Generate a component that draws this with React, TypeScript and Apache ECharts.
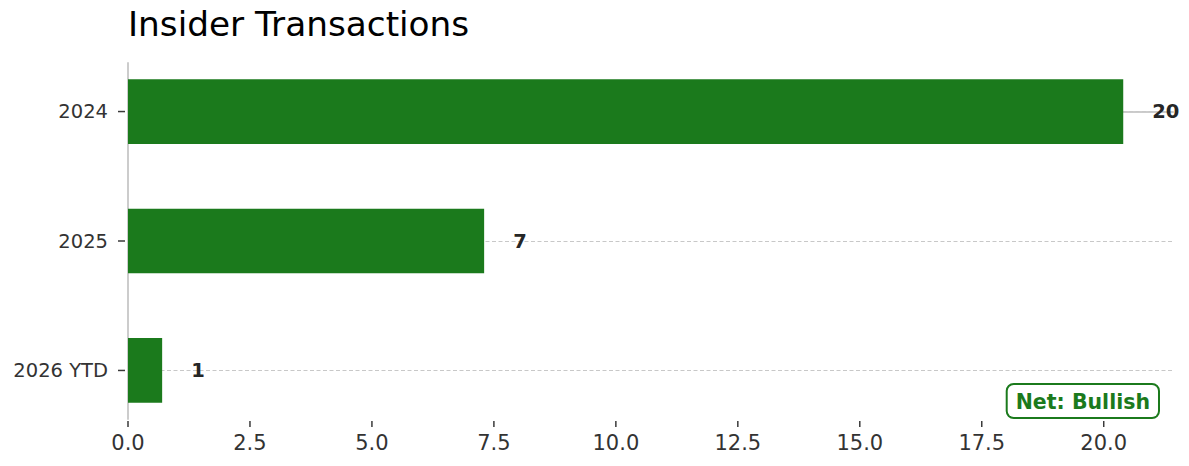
import React, { useEffect, useRef } from "react";
import * as echarts from "echarts";

// Insider transaction counts per period
const categories = ["2024", "2025", "2026 YTD"];
const transactions = [20.4, 7.3, 0.7];
const xTicks = [0, 2.5, 5, 7.5, 10, 12.5, 15, 17.5, 20];
const netSignal = "Net: Bullish";

const FONT = '"DejaVu Sans", "Liberation Sans", sans-serif';
const GREEN = "#1b7a1c";
const SPINE = "#cccccc";
const TEXT = "#333333";
const TICK = "#3a3a3a";
const BAR_HEIGHT = 0.5;

export default function App() {
  const ref = useRef<HTMLDivElement>(null);

  useEffect(() => {
    if (!ref.current) return;
    const chart = echarts.init(ref.current, null, { renderer: "svg" });
    const catIdx = categories.map((_, i) => i);

    chart.setOption({
      animation: false,
      title: {
        text: "Insider Transactions",
        left: 123,
        top: 2,
        textStyle: { fontFamily: FONT, fontSize: 34.3, fontWeight: "normal", color: "#000" },
      },
      grid: { left: 128, top: 63, width: 1045, height: 356, containLabel: false },
      xAxis: {
        type: "value",
        min: 0,
        max: Math.max(...transactions) * 1.05,
        splitLine: { show: false },
        axisLine: { show: true, lineStyle: { color: SPINE, width: 2 } },
        axisTick: { show: false },
        axisLabel: {
          customValues: xTicks,
          formatter: (v: number) => v.toFixed(1),
          fontFamily: FONT,
          fontSize: 21,
          color: TEXT,
          margin: 13,
        },
      },
      yAxis: {
        type: "value",
        inverse: true,
        min: -0.375,
        max: categories.length - 1 + 0.375,
        splitLine: { show: false },
        axisLine: { show: true, lineStyle: { color: SPINE, width: 2 } },
        axisTick: { show: false },
        axisLabel: {
          customValues: catIdx,
          formatter: (v: number) => categories[Math.round(v)] ?? "",
          fontFamily: FONT,
          fontSize: 19.5,
          color: TEXT,
          margin: 20,
        },
      },
      series: [
        {
          // dashed guides at each period
          type: "line",
          data: [],
          z: 1,
          markLine: {
            silent: true,
            z: 1,
            symbol: "none",
            label: { show: false },
            lineStyle: { color: "#c8c8c8", type: [4, 2.5], width: 1 },
            data: catIdx.map((i) => ({ yAxis: i })),
          },
        },
        {
          // x-axis tick marks
          type: "custom",
          z: 3,
          clip: false,
          encode: { x: 0 },
          data: xTicks.map((t) => [t]),
          renderItem: (_params: any, api: any) => {
            const p = api.coord([api.value(0), categories.length - 1 + 0.375]);
            return {
              type: "line",
              shape: { x1: p[0], y1: p[1] + 2, x2: p[0], y2: p[1] + 8 },
              style: { stroke: TICK, lineWidth: 1.5 },
            };
          },
        },
        {
          type: "custom",
          z: 2,
          clip: false,
          encode: { x: 0, y: 1 },
          data: transactions.map((v, i) => [v, i]),
          renderItem: (_params: any, api: any) => {
            const v = api.value(0);
            const i = api.value(1);
            const p0 = api.coord([0, i - BAR_HEIGHT / 2]);
            const p1 = api.coord([v, i + BAR_HEIGHT / 2]);
            const mid = api.coord([v, i]);
            const base = api.coord([0, i]);
            return {
              type: "group",
              children: [
                {
                  type: "rect",
                  shape: {
                    x: p0[0],
                    y: Math.min(p0[1], p1[1]),
                    width: p1[0] - p0[0],
                    height: Math.abs(p1[1] - p0[1]),
                  },
                  style: { fill: GREEN },
                },
                {
                  // y-axis tick mark for this period
                  type: "line",
                  shape: { x1: base[0] - 10, y1: base[1], x2: base[0] - 3, y2: base[1] },
                  style: { stroke: TICK, lineWidth: 1.5 },
                },
                {
                  type: "text",
                  x: mid[0] + 29,
                  y: mid[1],
                  style: {
                    text: String(Math.round(v)),
                    font: `bold 19.5px ${FONT}`,
                    fill: "#262626",
                    align: "left",
                    verticalAlign: "middle",
                  },
                },
              ],
            };
          },
        },
      ],
      graphic: [
        {
          type: "text",
          right: 29,
          bottom: 47,
          z: 10,
          style: {
            text: netSignal,
            font: `bold 20.5px ${FONT}`,
            fill: GREEN,
            backgroundColor: "#ffffff",
            borderColor: GREEN,
            borderWidth: 2,
            borderRadius: 6,
            padding: [6, 8, 5, 8],
          },
        },
      ],
    });

    return () => chart.dispose();
  }, []);

  return (
    <div
      ref={ref}
      style={{ position: "absolute", left: 0, top: 0, width: 1189, height: 466, background: "#fff" }}
    />
  );
}
